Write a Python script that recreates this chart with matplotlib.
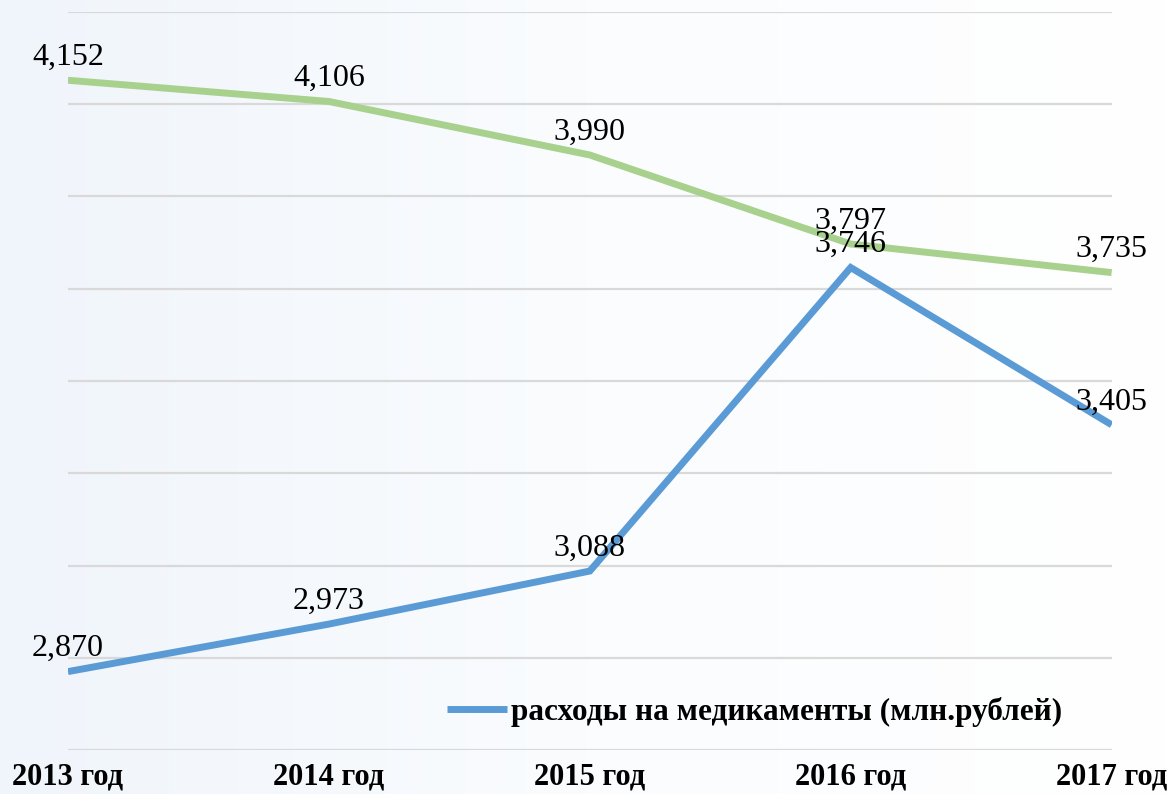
#!/usr/bin/env python3
"""Medication spending line chart, 2013-2017."""

import matplotlib.pyplot as plt
import numpy as np
from matplotlib.colors import LinearSegmentedColormap

plt.rcParams.update({
    "font.family": ["Liberation Serif", "DejaVu Serif"],
})

years = ["2013 год", "2014 год", "2015 год", "2016 год", "2017 год"]
expenses = [2870, 2973, 3088, 3746, 3405]      # blue, in legend
other_series = [4152, 4106, 3990, 3797, 3735]  # green, no legend entry
expenses_label = "расходы на медикаменты (млн.рублей)"

BLUE = "#5B9BD5"
GREEN = "#A9D18E"
GRID = "#D9D9D9"

fig = plt.figure(figsize=(11.72, 7.94), dpi=100)

# faint blue wash on the left side of the slide
bg = fig.add_axes([0, 0, 1, 1], zorder=-10)
grad = np.linspace(0, 1, 256).reshape(1, -1)
cmap = LinearSegmentedColormap.from_list("bg", ["#F0F5FB", "#FAFCFE", "#FFFFFF"])
bg.imshow(grad, aspect="auto", cmap=cmap, extent=[0, 1, 0, 1])
bg.axis("off")

ax = fig.add_axes([0.058, 0.0554, 0.8905, 0.9295])
ax.patch.set_alpha(0)
x = np.arange(len(years))

ax.plot(x, other_series, color=GREEN, linewidth=5, solid_capstyle="butt",
        solid_joinstyle="miter", label="_nolegend_", zorder=3)
ax.plot(x, expenses, color=BLUE, linewidth=5, solid_capstyle="butt",
        solid_joinstyle="miter", label=expenses_label, zorder=3)

for series in (other_series, expenses):
    for xi, v in zip(x, series):
        ax.annotate(f"{v:,}", (xi, v), xytext=(0, 11), textcoords="offset points",
                    ha="center", va="baseline", fontsize=23, zorder=4)

ax.set_xlim(0, len(years) - 1)
ax.set_ylim(2700, 4300)
ax.set_yticks(np.arange(2700, 4301, 200))
ax.yaxis.grid(True, color=GRID, linewidth=1.6)
ax.set_axisbelow(True)
ax.tick_params(axis="y", left=False, labelleft=False)
ax.tick_params(axis="x", length=0, pad=9)
ax.set_xticks(x)
ax.set_xticklabels(years, fontsize=22, fontweight="bold")
for s in ax.spines.values():
    s.set_visible(False)

leg = ax.legend(loc="center", bbox_to_anchor=(0.644, 0.103),
                bbox_transform=fig.transFigure, frameon=False,
                prop={"size": 22.5, "weight": "bold"},
                handlelength=1.9, handletextpad=0.15)

fig.savefig("out.png", dpi=100)
